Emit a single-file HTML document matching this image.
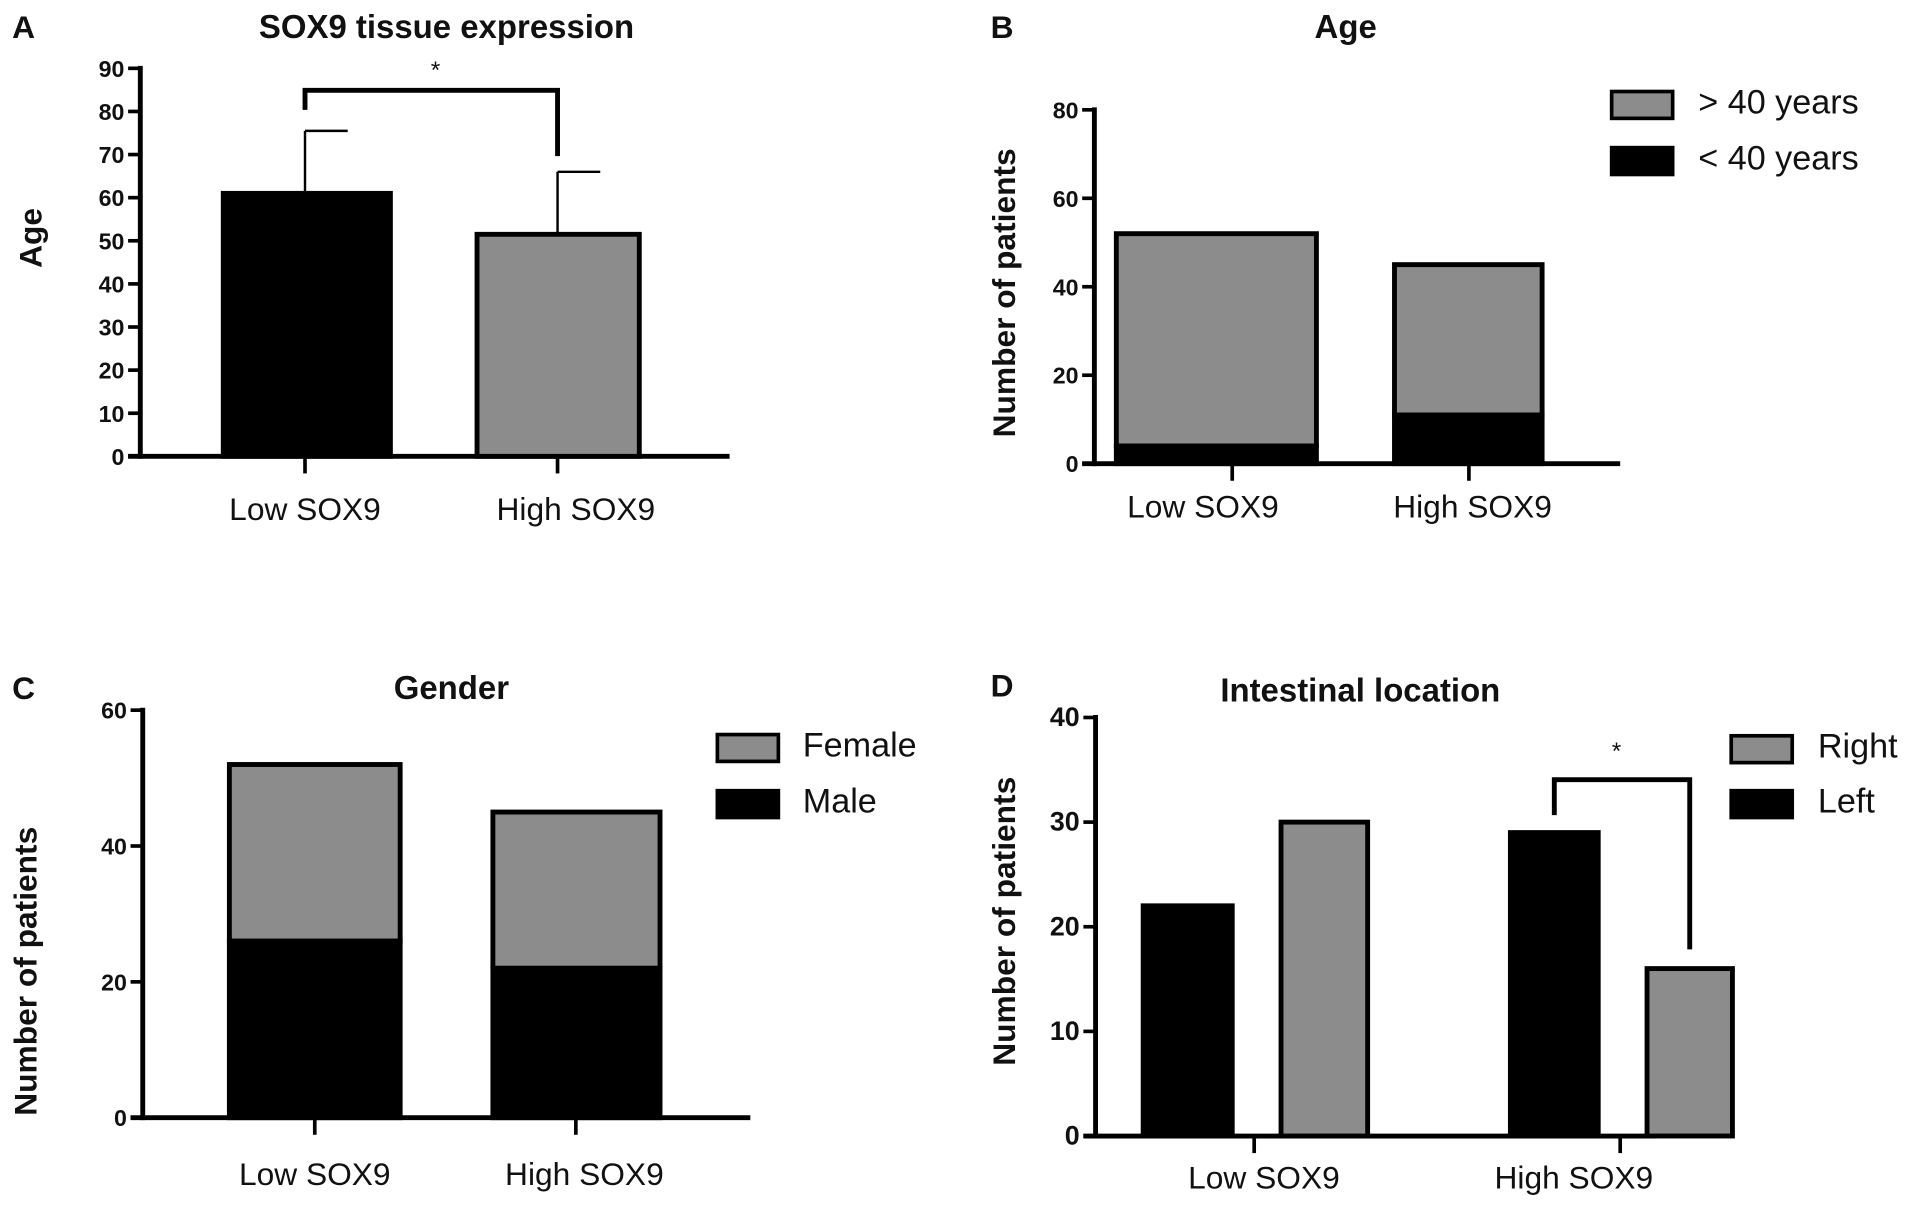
<!DOCTYPE html>
<html><head><meta charset="utf-8"><style>
html,body{margin:0;padding:0;background:#fff;width:1913px;height:1208px;overflow:hidden}
svg{display:block}
text{font-family:"Liberation Sans",Arial,sans-serif;fill:#111}
</style></head><body>
<svg id="fig" width="1913" height="1208" viewBox="0 0 1568 990" preserveAspectRatio="none" xmlns="http://www.w3.org/2000/svg"></svg>
<script>
// Panel A
const aCats = ["Low SOX9", "High SOX9"];
const aMeans = [61, 51.5];
const aSD = [14.5, 14.5];
const aTicks = [0,10,20,30,40,50,60,70,80,90];
// Panel B
const bCats = ["Low SOX9", "High SOX9"];
const bUnder40 = [4, 11];
const bOver40 = [48, 34];
const bTicks = [0,20,40,60,80];
// Panel C
const cCats = ["Low SOX9", "High SOX9"];
const cMale = [26, 22];
const cFemale = [26, 23];
const cTicks = [0,20,40,60];
// Panel D
const dCats = ["Low SOX9", "High SOX9"];
const dLeft = [22, 29];
const dRight = [30, 16];
const dTicks = [0,10,20,30,40];

const svg = document.getElementById('fig');
const NS = "http://www.w3.org/2000/svg";
function mk(tag, attrs, parent, name, txt){
  const e = document.createElementNS(NS, tag);
  for (const k in attrs) e.setAttribute(k, attrs[k]);
  
  
  if (txt !== undefined) e.textContent = txt;
  (parent || svg).appendChild(e);
  return e;
}
function axes(p){
  const y = v => p.y0 - (v - p.min) / (p.max - p.min) * (p.y0 - p.y1);
  const g = mk('g', {}, svg, p.id + '-panel');
  mk('line', {x1:p.ax, y1:p.y1-2, x2:p.ax, y2:p.y0+2, stroke:'#000','stroke-width':4}, g, 'y-axis');
  mk('line', {x1:p.ax-10, y1:p.y0, x2:p.xEnd, y2:p.y0, stroke:'#000','stroke-width':4}, g, 'x-axis');
  p.ticks.forEach(t => {
    mk('line', {x1:p.ax-10, y1:y(t), x2:p.ax, y2:y(t), stroke:'#000','stroke-width':3}, g, 'y-tick');
    mk('text', {x:p.ax-13, y:y(t)+7, 'text-anchor':'end','font-size':p.tf,'font-weight':'bold'}, g, 'y-tick-label', t);
  });
  p.catX.forEach((cx,i) => {
    mk('line', {x1:cx, y1:p.y0, x2:cx, y2:p.y0+14, stroke:'#000','stroke-width':3}, g, 'x-tick');
    mk('text', {x:p.labX[i], y:p.labY, 'text-anchor':'middle','font-size':26}, g, 'x-category-label', p.cats[i]);
  });
  mk('text', {x:p.titleX, y:p.titleY, 'text-anchor':'middle','font-size':27,'font-weight':'bold'}, g, 'chart-title', p.title);
  mk('text', {x:p.letX, y:p.letY, 'font-size':26,'font-weight':'bold'}, g, 'panel-letter', p.letter);
  mk('text', {x:p.ylX, y:p.ylY, 'text-anchor':'middle','font-size':26,'font-weight':'bold', transform:`rotate(-90 ${p.ylX} ${p.ylY})`}, g, 'y-axis-title', p.ylab);
  return {g, y};
}
function bar(g, x0, x1, yt, yb, fill, name){
  mk('rect', {x:x0, y:yt, width:x1-x0, height:yb-yt, fill:fill, stroke:'#000','stroke-width':4}, g, name);
}
function legend(g, x, y, fill, label, tx){
  mk('rect', {x:x, y:y, width:50, height:22, fill:fill, stroke:'#000','stroke-width':3}, g, 'legend-swatch');
  mk('text', {x:tx, y:y+18, 'font-size':28}, g, 'legend-label', label);
}
const GRAY = '#8c8c8c';

// A
{
  const p = {id:'a', ax:115, y0:374, y1:56, min:0, max:90, xEnd:598, ticks:aTicks, tf:19, cats:aCats,
    catX:[250,457], labX:[250,472], labY:426, title:'SOX9 tissue expression', titleX:366, titleY:31,
    letter:'A', letX:10, letY:31, ylab:'Age', ylX:34, ylY:195};
  const {g, y} = axes(p);
  const xs = [[183,320],[391,524]];
  const fills = ['#000', GRAY];
  aMeans.forEach((m,i) => {
    const cx = p.catX[i];
    mk('line', {x1:cx, y1:y(m), x2:cx, y2:y(m+aSD[i]), stroke:'#000','stroke-width':2}, g, 'error-bar');
    mk('line', {x1:cx, y1:y(m+aSD[i]), x2:cx+35, y2:y(m+aSD[i]), stroke:'#000','stroke-width':2}, g, 'error-cap');
    bar(g, xs[i][0], xs[i][1], y(m), y(0), fills[i], 'bar-' + (i?'high':'low'));
  });
  mk('path', {d:`M250 90 V74 H457 V128`, fill:'none', stroke:'#000','stroke-width':4}, g, 'significance-bracket');
  mk('text', {x:357, y:64, 'text-anchor':'middle','font-size':20}, g, 'significance-star', '*');
}
// B
{
  const p = {id:'b', ax:897, y0:380, y1:90, min:0, max:80, xEnd:1328, ticks:bTicks, tf:19, cats:bCats,
    catX:[1010,1204], labX:[986,1207], labY:424, title:'Age', titleX:1103, titleY:31,
    letter:'B', letX:812, letY:31, ylab:'Number of patients', ylX:832, ylY:240};
  const {g, y} = axes(p);
  const xs = [[915,1079],[1143,1264]];
  bCats.forEach((c,i) => {
    bar(g, xs[i][0], xs[i][1], y(bUnder40[i]+bOver40[i]), y(bUnder40[i]), GRAY, 'bar-over40');
    bar(g, xs[i][0], xs[i][1], y(bUnder40[i]), y(0), '#000', 'bar-under40');
  });
  legend(g, 1321, 75, GRAY, '> 40 years', 1392);
  legend(g, 1321, 121, '#000', '< 40 years', 1392);
}
// C
{
  const p = {id:'c', ax:117, y0:916, y1:582, min:0, max:60, xEnd:615, ticks:cTicks, tf:19, cats:cCats,
    catX:[258,472], labX:[258,479], labY:971, title:'Gender', titleX:370, titleY:573,
    letter:'C', letX:10, letY:573, ylab:'Number of patients', ylX:30, ylY:796};
  const {g, y} = axes(p);
  const xs = [[188,328],[404,541]];
  cCats.forEach((c,i) => {
    bar(g, xs[i][0], xs[i][1], y(cMale[i]+cFemale[i]), y(cMale[i]), GRAY, 'bar-female');
    bar(g, xs[i][0], xs[i][1], y(cMale[i]), y(0), '#000', 'bar-male');
  });
  legend(g, 588, 602, GRAY, 'Female', 658);
  legend(g, 588, 648, '#000', 'Male', 658);
}
// D
{
  const p = {id:'d', ax:898, y0:931, y1:588, min:0, max:40, xEnd:1358, ticks:dTicks, tf:22, cats:dCats,
    catX:[1028,1328], labX:[1036,1290], labY:974, title:'Intestinal location', titleX:1115, titleY:575,
    letter:'D', letX:812, letY:571, ylab:'Number of patients', ylX:832, ylY:755};
  const {g, y} = axes(p);
  const lx = [[937,1010],[1238,1310]];
  const rx = [[1050,1121],[1350,1420]];
  dCats.forEach((c,i) => {
    bar(g, lx[i][0], lx[i][1], y(dLeft[i]), y(0), '#000', 'bar-left');
    bar(g, rx[i][0], rx[i][1], y(dRight[i]), y(0), GRAY, 'bar-right');
  });
  mk('path', {d:`M1274 668 V639 H1385 V778`, fill:'none', stroke:'#000','stroke-width':4}, g, 'significance-bracket');
  mk('text', {x:1325, y:622, 'text-anchor':'middle','font-size':20}, g, 'significance-star', '*');
  legend(g, 1419, 603, GRAY, 'Right', 1490);
  legend(g, 1419, 648, '#000', 'Left', 1490);
}
</script>
</body></html>
